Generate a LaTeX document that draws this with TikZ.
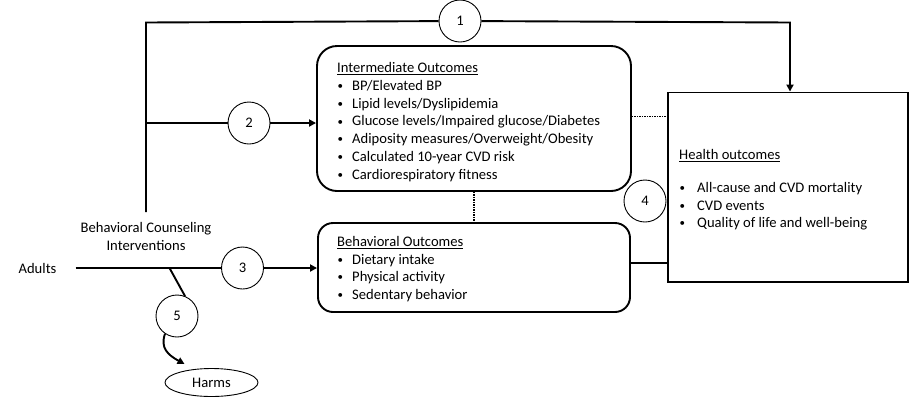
\documentclass[tikz,border=0pt]{standalone}
\usepackage{fontspec}
\setmainfont{Carlito}
\usetikzlibrary{arrows.meta,shapes.geometric}
\newcommand\itm[2][15pt]{\makebox[#1][l]{\kern0.5pt\raisebox{0.9pt}{\scalebox{0.75}{\textbullet}}}#2}
\begin{document}
\begin{tikzpicture}[x=1pt,y=-1pt,
  txt/.style={font=\fontsize{14.6}{17.7}\selectfont, inner sep=0pt, align=left},
  num/.style={circle, draw, line width=0.9pt, minimum size=42pt, inner sep=0pt, font=\fontsize{14.6}{17.7}\selectfont},
  conn/.style={line width=1.9pt},
  arr/.style={conn, -{Triangle[length=7pt,width=7pt]}},
  rbox/.style={draw, line width=1.9pt, inner sep=0pt},
  dots/.style={line width=1.4pt, dash pattern=on 1.5pt off 1pt},
]
\useasboundingbox (0,0) rectangle (911,400);
% boxes
\node[rbox, rounded corners=20pt, minimum width=314pt, minimum height=145pt] (intbox) at (474,118.5) {};
\node[rbox, rounded corners=15pt, minimum width=312pt, minimum height=89pt] (bhvbox) at (474,267.5) {};
\node[rbox, minimum width=240pt, minimum height=189.5pt] (hlth) at (788,187.25) {};
% box texts
\node[txt, anchor=north west] (inttxt) at (337,62.5) {\underline{Intermediate Outcomes}\\
\itm{BP/Elevated BP}\\
\itm{Lipid levels/Dyslipidemia}\\
\itm{Glucose levels/Impaired glucose/Diabetes}\\
\itm{Adiposity measures/Overweight/Obesity}\\
\itm{Calculated 10-year CVD risk}\\
\itm{Cardiorespiratory fitness}};
\node[txt, anchor=north west] (bhvtxt) at (337,236) {\underline{Behavioral Outcomes}\\
\itm{Dietary intake}\\
\itm{Physical activity}\\
\itm{Sedentary behavior}};
\node[txt, anchor=north west] (hlthtxt) at (679,149) {\underline{Health outcomes}\\[15.3pt]
\itm[18pt]{All-cause and CVD mortality}\\
\itm[18pt]{CVD events}\\
\itm[18pt]{Quality of life and well-being}};
% other nodes
\node[txt] (adults) at (37.5,268) {Adults};
\node[txt, align=center] (bci) at (146,236.5) {Behavioral Counseling\\Interventions};
\node[draw, ellipse, line width=0.9pt, minimum width=93pt, minimum height=28pt, inner sep=0pt, font=\fontsize{14.6}{17.7}\selectfont] (harms) at (211.5,382.5) {Harms};
\node[num] (c1) at (460,21) {1};
\node[num] (c2) at (249,123) {2};
\node[num] (c3) at (242.5,268) {3};
\node[num] (c4) at (645,201) {4};
\node[num] (c5) at (177,316) {5};
% coordinates
\coordinate (tl) at (146,22.5);
\coordinate (tr) at (790,22.5);
\coordinate (j2) at (146,123);
\coordinate (j5) at (169.5,268);
% connectors
\draw[conn] (146,212) -- (tl) -- (c1);
\draw[arr] (c1) -- (tr) -- (tr |- hlth.north);
\draw[conn] (j2) -- (c2);
\draw[arr] (c2) -- (c2 -| intbox.west);
\draw[conn] (adults.east) ++(19pt,0) -- (c3);
\draw[arr] (c3.east) -- (c3 -| bhvbox.west);
\draw[conn] (j5) -- (c5.68);
\draw[conn, -{Triangle[length=7pt,width=7pt]}] (c5.236) .. controls (160,348) and (168,355) .. (184.5,364);
\draw[dots] (intbox.east |- 0,116.7) -- (hlth.west |- 0,116.7);
\draw[dots] (intbox.south) -- (bhvbox.north);
\draw[conn] (bhvbox.east |- 0,263.3) -- (hlth.west |- 0,263.3);
\end{tikzpicture}
\end{document}
